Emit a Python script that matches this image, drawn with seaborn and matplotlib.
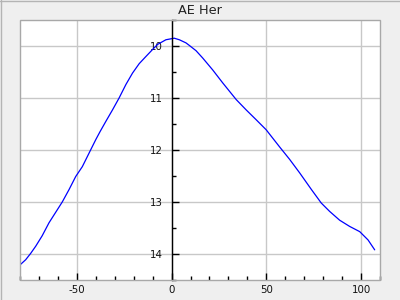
import matplotlib
matplotlib.use("Agg")
import matplotlib.pyplot as plt
from matplotlib.lines import Line2D
from matplotlib.patches import Rectangle
from matplotlib.ticker import MultipleLocator
import seaborn as sns
import pandas as pd

title = "AE Her"
phase = [-80, -77, -74.4, -71.7, -68.3, -64.7, -61.2, -57.7, -54.1, -50.6, -47.1,
         -42.6, -40, -37.8, -34.7, -31.2, -27.7, -24.1, -20.6, -17.1, -13.5, -10.1,
         -7.4, -3, 1.4, 4.1, 7.6, 9.4, 12.9, 16.4, 21.7, 27, 34.1, 39.4, 44.7, 49.9,
         57, 62.3, 67.6, 73.8, 79, 83.4, 88.7, 94, 99.3, 103.7, 107.2]
mag = [14.21, 14.11, 13.99, 13.85, 13.65, 13.40, 13.20, 13.00, 12.76, 12.51, 12.32,
       11.99, 11.80, 11.65, 11.45, 11.23, 11.00, 10.74, 10.52, 10.34, 10.20, 10.07,
       9.97, 9.88, 9.85, 9.88, 9.94, 9.99, 10.09, 10.23, 10.46, 10.71, 11.03, 11.23,
       11.42, 11.61, 11.94, 12.18, 12.44, 12.76, 13.02, 13.18, 13.35, 13.47, 13.57,
       13.73, 13.92]

df = pd.DataFrame({"phase": phase, "mag": mag})

sns.set_style("white")
plt.rcParams['font.family'] = ['DejaVu Sans']

fig = plt.figure(figsize=(4, 3), dpi=100, facecolor="#efefef")
ax = fig.add_axes([0.05, 1 - 280 / 300, 0.90, 260 / 300])
ax.set_facecolor("white")

sns.lineplot(data=df, x="phase", y="mag", color="#0000ff", linewidth=0.9, ax=ax,
             sort=False, estimator=None)

ax.set_xlim(-80, 110)
ax.set_ylim(14.5, 9.5)
ax.set_xlabel("")
ax.set_ylabel("")

ax.xaxis.set_major_locator(MultipleLocator(50))
ax.xaxis.set_minor_locator(MultipleLocator(10))
ax.yaxis.set_major_locator(MultipleLocator(1))
ax.yaxis.set_minor_locator(MultipleLocator(0.5))

ax.grid(True, which="major", color="#c8c8c8", linewidth=1)
ax.set_axisbelow(True)

for s in ["top", "right", "bottom"]:
    ax.spines[s].set_visible(False)
ax.spines["left"].set_position(("data", 0))
ax.spines["left"].set_color("black")
ax.spines["left"].set_linewidth(1)
ax.spines["left"].set_zorder(3)

ax.add_patch(Rectangle((0, 0), 1, 1, transform=ax.transAxes, fill=False,
                       edgecolor="#a8a8a8", linewidth=1, clip_on=False, zorder=4))

ax.tick_params(axis="x", which="both", bottom=True, top=False, direction="in",
               colors="black", labelcolor="#111111", labelsize=7.4, pad=3.5)
ax.tick_params(axis="x", which="major", length=5, width=1)
ax.tick_params(axis="x", which="minor", length=3, width=1)
ax.tick_params(axis="y", which="both", left=True, right=False, direction="in",
               colors="black", labelcolor="#111111", labelsize=7.4, pad=6)
ax.tick_params(axis="y", which="major", length=5, width=1)
ax.tick_params(axis="y", which="minor", length=3, width=1)
ax.set_xticklabels([f"{int(t)}" for t in ax.get_xticks()])
ax.set_yticklabels([f"{int(t)}" for t in ax.get_yticks()])

ax.set_title(title, fontsize=9.3, color="#222222", pad=4)

fig.add_artist(Line2D([0.5 / 400, 0.5 / 400], [0, 1], transform=fig.transFigure,
                      color="#b4b4b4", linewidth=1))
fig.add_artist(Line2D([0, 1], [1 - 0.5 / 300, 1 - 0.5 / 300], transform=fig.transFigure,
                      color="#b4b4b4", linewidth=1))

fig.savefig("out.png", dpi=100, facecolor=fig.get_facecolor())
